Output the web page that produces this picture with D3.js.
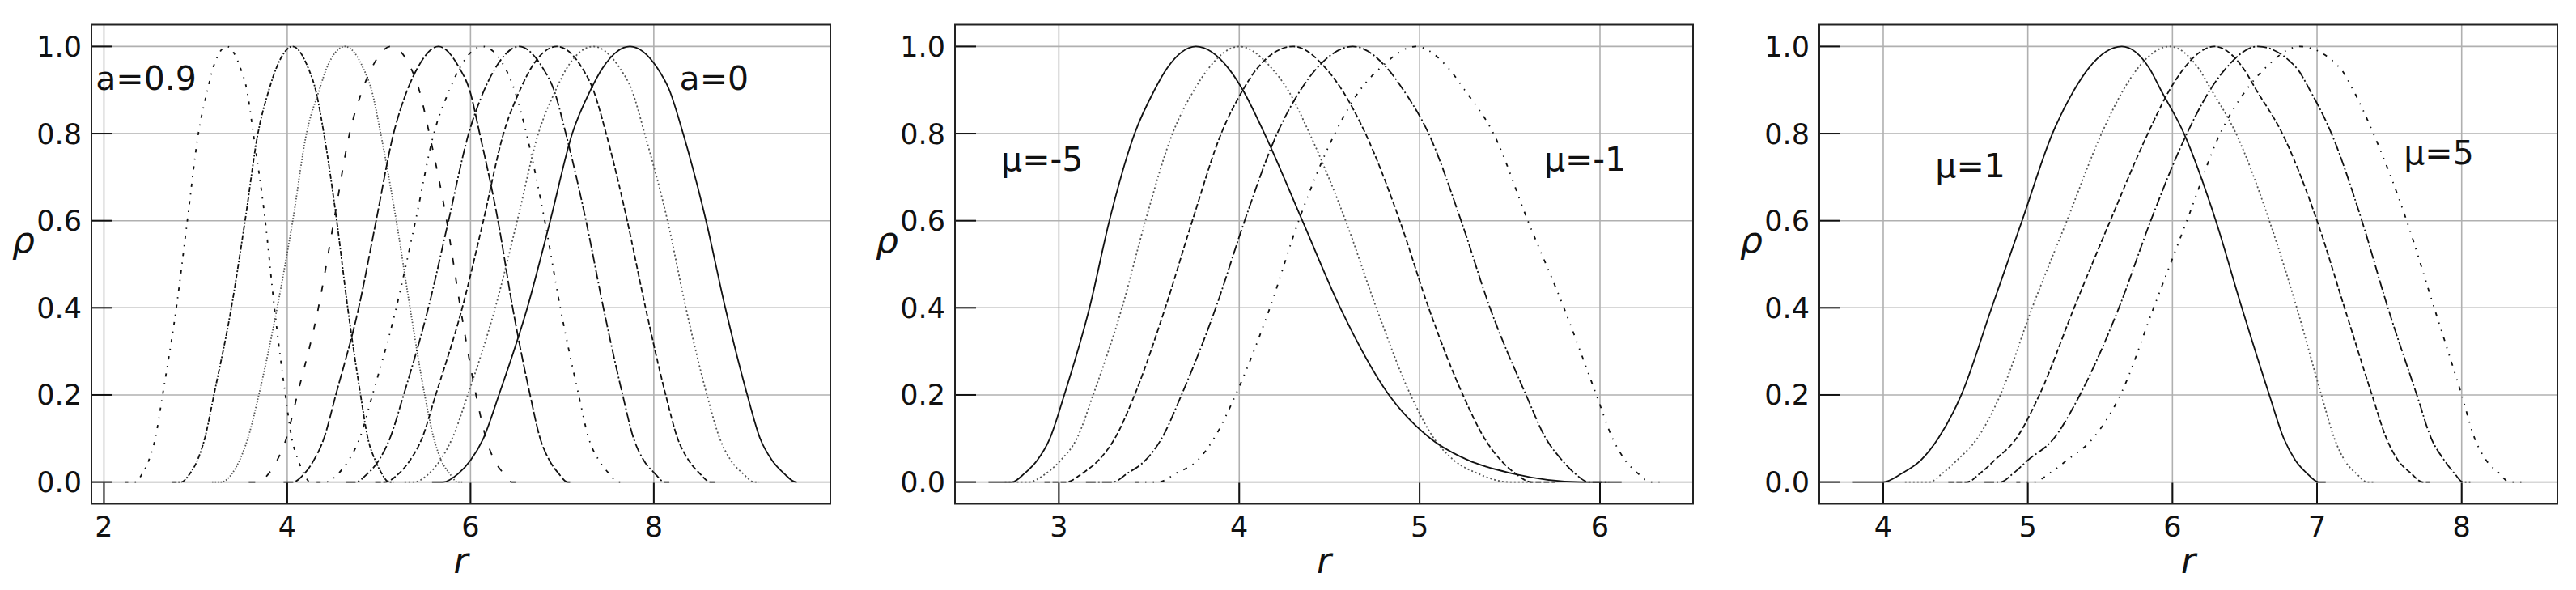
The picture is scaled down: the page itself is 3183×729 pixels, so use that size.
<!DOCTYPE html>
<html>
<head>
<meta charset="utf-8">
<script src="https://cdn.jsdelivr.net/npm/d3@7/dist/d3.min.js"></script>
<style>
  body { margin: 0; background: #fff; }
  text { font-family: "DejaVu Sans", sans-serif; fill: #111; }
</style>
</head>
<body>
<svg id="fig" width="3183" height="729"></svg>
<script>
// density levels shared by every curve (left tail -> peak -> right tail)
const rhoLevels = [0, 0, 0.02, 0.05, 0.1, 0.2, 0.4, 0.6, 0.8, 0.9, 0.95, 1,
                   0.95, 0.9, 0.8, 0.6, 0.4, 0.2, 0.1, 0.05, 0.02, 0, 0];

// panel 1 : r at each level, a = 0.9 ... 0
const rPanelA = [
  [2.23, 2.34, 2.42, 2.49, 2.56, 2.64, 2.79, 2.91, 3.03, 3.13, 3.19, 3.34, 3.49, 3.56, 3.63, 3.76, 3.86, 3.98, 4.05, 4.12, 4.18, 4.25, 4.30], // a=0.9
  [2.74, 2.84, 2.94, 3.02, 3.10, 3.20, 3.39, 3.54, 3.68, 3.80, 3.88, 4.06, 4.23, 4.31, 4.40, 4.54, 4.66, 4.80, 4.88, 4.96, 5.03, 5.11, 5.16],
  [3.18, 3.28, 3.40, 3.48, 3.57, 3.69, 3.89, 4.06, 4.21, 4.35, 4.43, 4.63, 4.83, 4.92, 5.02, 5.19, 5.34, 5.50, 5.60, 5.68, 5.77, 5.86, 5.91],
  [3.58, 3.68, 3.80, 3.89, 3.99, 4.11, 4.34, 4.51, 4.68, 4.82, 4.92, 5.13, 5.35, 5.44, 5.55, 5.74, 5.89, 6.06, 6.17, 6.26, 6.36, 6.45, 6.50],
  [3.96, 4.06, 4.19, 4.29, 4.40, 4.53, 4.78, 4.97, 5.16, 5.31, 5.42, 5.65, 5.88, 5.99, 6.10, 6.30, 6.46, 6.65, 6.76, 6.86, 6.96, 7.06, 7.11],
  [4.32, 4.42, 4.56, 4.67, 4.79, 4.93, 5.19, 5.40, 5.60, 5.77, 5.88, 6.13, 6.38, 6.48, 6.61, 6.81, 6.98, 7.18, 7.29, 7.40, 7.51, 7.61, 7.66],
  [4.64, 4.74, 4.88, 5.00, 5.12, 5.27, 5.54, 5.76, 5.98, 6.15, 6.27, 6.53, 6.79, 6.91, 7.04, 7.26, 7.45, 7.66, 7.78, 7.89, 8.01, 8.12, 8.17],
  [4.96, 5.06, 5.22, 5.34, 5.47, 5.62, 5.91, 6.14, 6.36, 6.54, 6.66, 6.94, 7.22, 7.34, 7.48, 7.71, 7.91, 8.13, 8.26, 8.38, 8.50, 8.62, 8.67],
  [5.28, 5.38, 5.55, 5.67, 5.80, 5.97, 6.27, 6.51, 6.74, 6.93, 7.05, 7.34, 7.63, 7.76, 7.90, 8.15, 8.35, 8.58, 8.72, 8.84, 8.97, 9.10, 9.15],
  [5.58, 5.70, 5.87, 6.00, 6.14, 6.31, 6.62, 6.87, 7.11, 7.31, 7.44, 7.74, 8.04, 8.17, 8.32, 8.57, 8.78, 9.02, 9.16, 9.29, 9.42, 9.55, 9.56]  // a=0
];

// panel 2 : mu = -5 ... -1
const rPanelB = [
  [2.61, 2.74, 2.81, 2.88, 2.95, 3.03, 3.17, 3.28, 3.42, 3.53, 3.60, 3.76, 3.94, 4.02, 4.14, 4.35, 4.56, 4.83, 5.06, 5.27, 5.51, 5.90, 6.12],
  [2.70, 2.83, 2.93, 3.01, 3.10, 3.19, 3.35, 3.48, 3.63, 3.75, 3.83, 4.00, 4.18, 4.27, 4.39, 4.59, 4.76, 4.95, 5.08, 5.19, 5.32, 5.50, 5.62],
  [2.92, 3.04, 3.13, 3.22, 3.31, 3.42, 3.59, 3.74, 3.90, 4.02, 4.10, 4.30, 4.48, 4.57, 4.70, 4.89, 5.05, 5.24, 5.36, 5.45, 5.53, 5.62, 5.75],
  [3.15, 3.30, 3.38, 3.48, 3.57, 3.68, 3.87, 4.03, 4.21, 4.34, 4.43, 4.63, 4.82, 4.91, 5.05, 5.23, 5.39, 5.59, 5.70, 5.79, 5.86, 5.94, 6.05],
  [3.42, 3.55, 3.65, 3.77, 3.86, 3.98, 4.17, 4.33, 4.53, 4.67, 4.78, 4.98, 5.16, 5.25, 5.41, 5.60, 5.80, 5.98, 6.07, 6.14, 6.21, 6.28, 6.33]
];

// panel 3 : mu = 1 ... 5
const rPanelC = [
  [3.79, 4.00, 4.13, 4.26, 4.38, 4.54, 4.75, 4.96, 5.17, 5.32, 5.42, 5.65, 5.84, 5.92, 6.08, 6.30, 6.48, 6.67, 6.77, 6.85, 6.93, 7.01, 7.06],
  [4.15, 4.32, 4.41, 4.51, 4.65, 4.81, 5.03, 5.27, 5.51, 5.66, 5.76, 5.98, 6.18, 6.27, 6.44, 6.67, 6.86, 7.03, 7.12, 7.19, 7.27, 7.35, 7.40],
  [4.45, 4.58, 4.67, 4.77, 4.92, 5.08, 5.32, 5.57, 5.83, 5.98, 6.08, 6.29, 6.49, 6.58, 6.76, 7.00, 7.19, 7.38, 7.48, 7.56, 7.65, 7.73, 7.78],
  [4.70, 4.81, 4.90, 5.00, 5.18, 5.36, 5.63, 5.85, 6.10, 6.26, 6.37, 6.59, 6.86, 6.95, 7.10, 7.31, 7.49, 7.69, 7.79, 7.88, 7.95, 8.01, 8.06],
  [4.92, 5.04, 5.15, 5.27, 5.45, 5.64, 5.87, 6.10, 6.33, 6.51, 6.64, 6.88, 7.16, 7.25, 7.39, 7.62, 7.81, 8.00, 8.09, 8.17, 8.26, 8.33, 8.43]
];

const xTicksA = [2, 4, 6, 8];
const xTicksB = [3, 4, 5, 6];
const xTicksC = [4, 5, 6, 7, 8];
const yTicks = [0, 0.2, 0.4, 0.6, 0.8, 1.0];

const notesA = [{t: "a=0.9", r: 1.91, rho: 0.9}, {t: "a=0", r: 8.28, rho: 0.9}];
const notesB = [{t: "μ=-5", r: 2.68, rho: 0.715}, {t: "μ=-1", r: 5.69, rho: 0.715}];
const notesC = [{t: "μ=1", r: 4.36, rho: 0.70}, {t: "μ=5", r: 7.60, rho: 0.73}];

// line styles
const dashA = ["4,8,1.5,8", "6,2,2,2", "1.5,2", "8,16", "12,3",
               "5,8,1.5,8,1.5,8", "12,3,2,3", "7,3", "2,3", null];
const greyA = [false, false, true, false, false, false, false, false, true, false];
const dashBC = [null, "2,3", "7,3", "12,3,2,3", "5,8,1.5,8,1.5,8"];
const greyBC = [false, true, false, false, false];

const svg = d3.select("#fig");
const plotTop = 30.5, plotBottom = 622.5;
const tickLen = 26;

const y = d3.scaleLinear().domain([-0.05, 1.05]).range([plotBottom, plotTop]);

const panels = [
  {left: 113, width: 913, curves: rPanelA, ticks: xTicksA, dash: dashA, grey: greyA, notes: notesA},
  {left: 1180, width: 912, curves: rPanelB, ticks: xTicksB, dash: dashBC, grey: greyBC, notes: notesB},
  {left: 2248, width: 912, curves: rPanelC, ticks: xTicksC, dash: dashBC, grey: greyBC, notes: notesC}
];

panels.forEach(p => {
  // matplotlib style 5% margin around the data
  const all = p.curves.flat();
  const lo = d3.min(all), hi = d3.max(all), pad = (hi - lo) * 0.05;
  const x = d3.scaleLinear().domain([lo - pad, hi + pad]).range([p.left, p.left + p.width]);
  const g = svg.append("g");

  // grid
  g.append("g").selectAll("line").data(p.ticks).join("line")
    .attr("x1", d => x(d)).attr("x2", d => x(d))
    .attr("y1", plotTop).attr("y2", plotBottom)
    .attr("stroke", "#b0b0b0").attr("stroke-width", 1.6);
  g.append("g").selectAll("line").data(yTicks).join("line")
    .attr("x1", p.left).attr("x2", p.left + p.width)
    .attr("y1", d => y(d)).attr("y2", d => y(d))
    .attr("stroke", "#b0b0b0").attr("stroke-width", 1.6);

  // curves
  const line = d3.line()
    .x(d => x(d[0])).y(d => y(d[1]))
    .curve(d3.curveMonotoneX);
  g.append("g").selectAll("path").data(p.curves).join("path")
    .attr("d", rs => line(rs.map((r, i) => [r, rhoLevels[i]])))
    .attr("fill", "none")
    .attr("stroke", (d, i) => p.grey[i] ? "#555" : "#111")
    .attr("stroke-width", 1.8)
    .attr("stroke-dasharray", (d, i) => p.dash[i]);

  // ticks pointing inward
  g.append("g").selectAll("line").data(p.ticks).join("line")
    .attr("x1", d => x(d)).attr("x2", d => x(d))
    .attr("y1", plotBottom).attr("y2", plotBottom - tickLen)
    .attr("stroke", "#111").attr("stroke-width", 2);
  g.append("g").selectAll("line").data(yTicks).join("line")
    .attr("x1", p.left).attr("x2", p.left + tickLen)
    .attr("y1", d => y(d)).attr("y2", d => y(d))
    .attr("stroke", "#111").attr("stroke-width", 2);

  // frame
  g.append("rect")
    .attr("x", p.left).attr("y", plotTop)
    .attr("width", p.width).attr("height", plotBottom - plotTop)
    .attr("fill", "none").attr("stroke", "#222").attr("stroke-width", 2);

  // tick labels
  g.append("g").selectAll("text").data(p.ticks).join("text")
    .attr("x", d => x(d)).attr("y", 663)
    .attr("text-anchor", "middle").attr("font-size", 35)
    .text(d => d);
  g.append("g").selectAll("text").data(yTicks).join("text")
    .attr("x", p.left - 12).attr("y", d => y(d) + 12.5)
    .attr("text-anchor", "end").attr("font-size", 35)
    .text(d => d3.format(".1f")(d));

  // axis labels
  g.append("text")
    .attr("x", p.left - 84).attr("y", 312)
    .attr("text-anchor", "middle").attr("font-size", 44).attr("font-style", "italic")
    .text("ρ");
  g.append("text")
    .attr("x", p.left + p.width / 2).attr("y", 708)
    .attr("text-anchor", "middle").attr("font-size", 44).attr("font-style", "italic")
    .text("r");

  // annotations
  g.append("g").selectAll("text").data(p.notes).join("text")
    .attr("x", d => x(d.r)).attr("y", d => y(d.rho))
    .attr("font-size", 41)
    .text(d => d.t);
});
</script>
</body>
</html>
